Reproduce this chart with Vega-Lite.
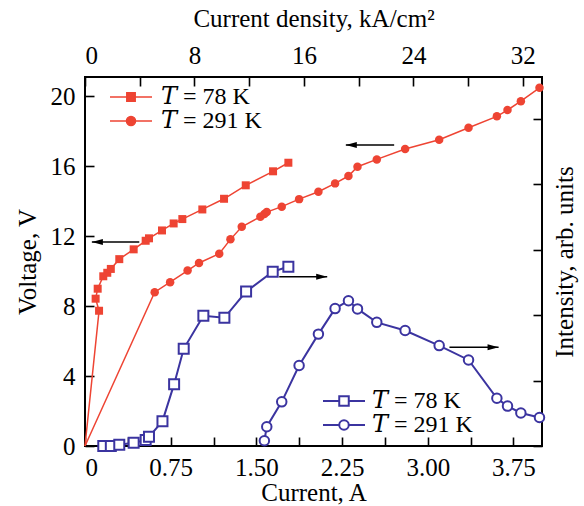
{
  "$schema": "https://vega.github.io/schema/vega-lite/v6.json",
  "width": 457,
  "height": 369,
  "autosize": {"type": "none"},
  "padding": {"left": 85, "top": 77, "right": 42, "bottom": 60},
  "background": "white",
  "config": {
    "font": "Liberation Serif",
    "view": {"stroke": "black", "strokeWidth": 2},
    "axis": {
      "grid": false,
      "domain": false,
      "ticks": true,
      "tickSize": 9,
      "offset": -9,
      "tickColor": "black",
      "tickWidth": 1.6,
      "tickOpacity": 1,
      "labelFont": "Liberation Serif",
      "labelFontSize": 25,
      "labelColor": "black",
      "titleFont": "Liberation Serif",
      "titleFontSize": 25,
      "titleFontWeight": "normal",
      "titleColor": "black"
    },
    "legend": {
      "title": null,
      "labelFont": "Liberation Serif, DejaVu Serif",
      "labelFontSize": 24,
      "labelColor": "black",
      "padding": 0,
      "rowPadding": 0
    }
  },
  "datasets": {
    "volt": [
      {"T": "78 K", "i": 0, "A": 0, "V": 0},
      {"T": "78 K", "i": 1, "A": 0.123, "V": 7.73},
      {"T": "78 K", "i": 2, "A": 0.093, "V": 8.42},
      {"T": "78 K", "i": 3, "A": 0.111, "V": 8.99},
      {"T": "78 K", "i": 4, "A": 0.16, "V": 9.7},
      {"T": "78 K", "i": 5, "A": 0.195, "V": 9.9},
      {"T": "78 K", "i": 6, "A": 0.226, "V": 10.12},
      {"T": "78 K", "i": 7, "A": 0.3, "V": 10.68},
      {"T": "78 K", "i": 8, "A": 0.426, "V": 11.24},
      {"T": "78 K", "i": 9, "A": 0.531, "V": 11.73},
      {"T": "78 K", "i": 10, "A": 0.56, "V": 11.87},
      {"T": "78 K", "i": 11, "A": 0.674, "V": 12.32},
      {"T": "78 K", "i": 12, "A": 0.776, "V": 12.72},
      {"T": "78 K", "i": 13, "A": 0.852, "V": 12.97},
      {"T": "78 K", "i": 14, "A": 1.027, "V": 13.52},
      {"T": "78 K", "i": 15, "A": 1.217, "V": 14.13},
      {"T": "78 K", "i": 16, "A": 1.407, "V": 14.9},
      {"T": "78 K", "i": 17, "A": 1.646, "V": 15.7},
      {"T": "78 K", "i": 18, "A": 1.78, "V": 16.19},
      {"T": "291 K", "i": 0, "A": 0, "V": 0},
      {"T": "291 K", "i": 1, "A": 0.61, "V": 8.79},
      {"T": "291 K", "i": 2, "A": 0.745, "V": 9.36},
      {"T": "291 K", "i": 3, "A": 0.898, "V": 10.03},
      {"T": "291 K", "i": 4, "A": 0.998, "V": 10.46},
      {"T": "291 K", "i": 5, "A": 1.175, "V": 10.99},
      {"T": "291 K", "i": 6, "A": 1.273, "V": 11.81},
      {"T": "291 K", "i": 7, "A": 1.372, "V": 12.53},
      {"T": "291 K", "i": 8, "A": 1.535, "V": 13.1},
      {"T": "291 K", "i": 9, "A": 1.57, "V": 13.26},
      {"T": "291 K", "i": 10, "A": 1.591, "V": 13.37},
      {"T": "291 K", "i": 11, "A": 1.722, "V": 13.68},
      {"T": "291 K", "i": 12, "A": 1.874, "V": 14.11},
      {"T": "291 K", "i": 13, "A": 2.043, "V": 14.53},
      {"T": "291 K", "i": 14, "A": 2.189, "V": 15.01},
      {"T": "291 K", "i": 15, "A": 2.306, "V": 15.43},
      {"T": "291 K", "i": 16, "A": 2.385, "V": 15.96},
      {"T": "291 K", "i": 17, "A": 2.554, "V": 16.38},
      {"T": "291 K", "i": 18, "A": 2.802, "V": 16.97},
      {"T": "291 K", "i": 19, "A": 3.1, "V": 17.5},
      {"T": "291 K", "i": 20, "A": 3.357, "V": 18.19},
      {"T": "291 K", "i": 21, "A": 3.605, "V": 18.84},
      {"T": "291 K", "i": 22, "A": 3.698, "V": 19.2},
      {"T": "291 K", "i": 23, "A": 3.815, "V": 19.71},
      {"T": "291 K", "i": 24, "A": 3.978, "V": 20.47}
    ],
    "inten": [
      {"T": "78 K", "A": 0.16, "I": 0.0},
      {"T": "78 K", "A": 0.226, "I": 0.0},
      {"T": "78 K", "A": 0.3, "I": 0.04},
      {"T": "78 K", "A": 0.426, "I": 0.1},
      {"T": "78 K", "A": 0.531, "I": 0.18},
      {"T": "78 K", "A": 0.56, "I": 0.28},
      {"T": "78 K", "A": 0.678, "I": 0.76},
      {"T": "78 K", "A": 0.78, "I": 1.89},
      {"T": "78 K", "A": 0.864, "I": 2.97},
      {"T": "78 K", "A": 1.036, "I": 3.98},
      {"T": "78 K", "A": 1.22, "I": 3.92},
      {"T": "78 K", "A": 1.41, "I": 4.72},
      {"T": "78 K", "A": 1.643, "I": 5.33},
      {"T": "78 K", "A": 1.78, "I": 5.48},
      {"T": "291 K", "A": 1.57, "I": 0.16},
      {"T": "291 K", "A": 1.591, "I": 0.59},
      {"T": "291 K", "A": 1.722, "I": 1.35},
      {"T": "291 K", "A": 1.874, "I": 2.46},
      {"T": "291 K", "A": 2.043, "I": 3.42},
      {"T": "291 K", "A": 2.189, "I": 4.2},
      {"T": "291 K", "A": 2.306, "I": 4.44},
      {"T": "291 K", "A": 2.385, "I": 4.19},
      {"T": "291 K", "A": 2.554, "I": 3.78},
      {"T": "291 K", "A": 2.802, "I": 3.53},
      {"T": "291 K", "A": 3.1, "I": 3.07},
      {"T": "291 K", "A": 3.357, "I": 2.63},
      {"T": "291 K", "A": 3.605, "I": 1.46},
      {"T": "291 K", "A": 3.698, "I": 1.22},
      {"T": "291 K", "A": 3.815, "I": 1.01},
      {"T": "291 K", "A": 3.978, "I": 0.87}
    ],
    "arrows": [
      {"x1": 0.475, "x2": 0.06, "V": 11.66, "dir": "l"},
      {"x1": 2.706, "x2": 2.283, "V": 17.2, "dir": "l"},
      {"x1": 1.7, "x2": 2.12, "V": 9.67, "dir": "r"},
      {"x1": 3.19, "x2": 3.62, "V": 5.64, "dir": "r"}
    ],
    "top": [{"J": 0}]
  },
  "layer": [
    {
      "layer": [
        {
          "layer": [
            {
              "data": {"name": "volt"},
              "mark": {"type": "line", "color": "#EE4433", "strokeWidth": 1.5},
              "encoding": {
                "x": {
                  "field": "A", "type": "quantitative",
                  "scale": {"domain": [0, 4], "nice": false, "zero": false},
                  "axis": {
                    "orient": "bottom",
                    "title": "Current, A",
                    "values": [0, 0.375, 0.75, 1.125, 1.5, 1.875, 2.25, 2.625, 3, 3.375, 3.75],
                    "labelExpr": "datum.value == 0 ? '0' : (datum.value % 0.75 == 0 ? format(datum.value, '.2f') : '')",
                    "labelPadding": 9,
                    "titlePadding": 0
                  }
                },
                "y": {
                  "field": "V", "type": "quantitative",
                  "scale": {"domain": [0, 21.09], "nice": false, "zero": false},
                  "axis": {
                    "orient": "left",
                    "title": "Voltage, V",
                    "values": [0, 2, 4, 6, 8, 10, 12, 14, 16, 18, 20],
                    "labelExpr": "datum.value % 4 == 0 ? datum.label : ''",
                    "labelPadding": 10,
                    "titlePadding": 10
                  }
                },
                "detail": {"field": "T"},
                "order": {"field": "i", "type": "quantitative"}
              }
            },
            {
              "data": {"name": "volt"},
              "transform": [{"filter": "datum.i > 0 && datum.T == '78 K'"}],
              "mark": {"type": "point", "shape": "square", "filled": true, "color": "#EE4433", "size": 64, "opacity": 1},
              "encoding": {
                "x": {"field": "A", "type": "quantitative", "scale": {"domain": [0, 4], "nice": false, "zero": false}},
                "y": {"field": "V", "type": "quantitative", "scale": {"domain": [0, 21.09], "nice": false, "zero": false}}
              }
            },
            {
              "data": {"name": "volt"},
              "transform": [{"filter": "datum.i > 0 && datum.T == '291 K'"}],
              "mark": {"type": "point", "shape": "circle", "filled": true, "color": "#EE4433", "size": 72, "opacity": 1},
              "encoding": {
                "x": {"field": "A", "type": "quantitative", "scale": {"domain": [0, 4], "nice": false, "zero": false}},
                "y": {"field": "V", "type": "quantitative", "scale": {"domain": [0, 21.09], "nice": false, "zero": false}}
              }
            },
            {
              "data": {"name": "volt"},
              "transform": [{"filter": "false"}],
              "mark": {"type": "point", "filled": true, "color": "#EE4433", "stroke": "#EE4433", "strokeWidth": 1.5, "size": 196, "opacity": 1},
              "encoding": {
                "x": {"field": "A", "type": "quantitative", "scale": {"domain": [0, 4], "nice": false, "zero": false}},
                "y": {"field": "V", "type": "quantitative", "scale": {"domain": [0, 21.09], "nice": false, "zero": false}},
                "shape": {
                  "field": "T", "type": "nominal",
                  "scale": {
                    "domain": ["78 K", "291 K"],
                    "range": ["M-3,0H3M-0.6,-0.6H0.6V0.6H-0.6Z", "M-3,0H3M-0.65,0A0.65,0.65,0,1,0,0.65,0A0.65,0.65,0,1,0,-0.65,0Z"]
                  },
                  "legend": {
                    "orient": "none",
                    "legendX": 34,
                    "legendY": 8,
                    "symbolSize": 196,
                    "symbolStrokeWidth": 1.5,
                    "labelOffset": 18,
                    "labelExpr": "'𝑇 = ' + datum.label"
                  }
                }
              }
            },
            {
              "data": {"name": "arrows"},
              "mark": {"type": "rule", "color": "black", "strokeWidth": 1.5},
              "encoding": {
                "x": {"field": "x1", "type": "quantitative", "scale": {"domain": [0, 4], "nice": false, "zero": false}},
                "x2": {"field": "x2"},
                "y": {"field": "V", "type": "quantitative", "scale": {"domain": [0, 21.09], "nice": false, "zero": false}}
              }
            },
            {
              "data": {"name": "arrows"},
              "transform": [{"filter": "datum.dir == 'l'"}],
              "mark": {"type": "point", "shape": "M0,0L2,-0.55L2,0.55Z", "filled": true, "color": "black", "size": 121, "opacity": 1},
              "encoding": {
                "x": {"field": "x2", "type": "quantitative", "scale": {"domain": [0, 4], "nice": false, "zero": false}},
                "y": {"field": "V", "type": "quantitative", "scale": {"domain": [0, 21.09], "nice": false, "zero": false}}
              }
            },
            {
              "data": {"name": "arrows"},
              "transform": [{"filter": "datum.dir == 'r'"}],
              "mark": {"type": "point", "shape": "M0,0L-2,-0.55L-2,0.55Z", "filled": true, "color": "black", "size": 121, "opacity": 1},
              "encoding": {
                "x": {"field": "x2", "type": "quantitative", "scale": {"domain": [0, 4], "nice": false, "zero": false}},
                "y": {"field": "V", "type": "quantitative", "scale": {"domain": [0, 21.09], "nice": false, "zero": false}}
              }
            }
          ]
        },
        {
          "layer": [
            {
              "data": {"name": "inten"},
              "mark": {"type": "line", "color": "#3B34A0", "strokeWidth": 2},
              "encoding": {
                "x": {"field": "A", "type": "quantitative", "scale": {"domain": [0, 4], "nice": false, "zero": false}},
                "y": {
                  "field": "I", "type": "quantitative",
                  "scale": {"domain": [0, 11.28], "nice": false, "zero": false},
                  "axis": {
                    "orient": "right",
                    "title": "Intensity, arb. units",
                    "values": [0, 1, 2, 3, 4, 5, 6, 7, 8, 9, 10, 11],
                    "labels": false,
                    "titleAngle": 270,
                    "titleBaseline": "top",
                    "titlePadding": 10
                  }
                },
                "detail": {"field": "T"}
              }
            },
            {
              "data": {"name": "inten"},
              "transform": [{"filter": "datum.T == '78 K'"}],
              "mark": {"type": "point", "shape": "square", "filled": false, "fill": "white", "stroke": "#3B34A0", "strokeWidth": 2, "size": 100, "opacity": 1},
              "encoding": {
                "x": {"field": "A", "type": "quantitative", "scale": {"domain": [0, 4], "nice": false, "zero": false}},
                "y": {"field": "I", "type": "quantitative", "scale": {"domain": [0, 11.28], "nice": false, "zero": false}}
              }
            },
            {
              "data": {"name": "inten"},
              "transform": [{"filter": "datum.T == '291 K'"}],
              "mark": {"type": "point", "shape": "circle", "filled": false, "fill": "white", "stroke": "#3B34A0", "strokeWidth": 2, "size": 90, "opacity": 1},
              "encoding": {
                "x": {"field": "A", "type": "quantitative", "scale": {"domain": [0, 4], "nice": false, "zero": false}},
                "y": {"field": "I", "type": "quantitative", "scale": {"domain": [0, 11.28], "nice": false, "zero": false}}
              }
            },
            {
              "data": {"name": "inten"},
              "transform": [{"filter": "false"}],
              "mark": {"type": "point", "filled": false, "fill": "white", "stroke": "#3B34A0", "strokeWidth": 2, "size": 196, "opacity": 1},
              "encoding": {
                "x": {"field": "A", "type": "quantitative", "scale": {"domain": [0, 4], "nice": false, "zero": false}},
                "y": {"field": "I", "type": "quantitative", "scale": {"domain": [0, 11.28], "nice": false, "zero": false}},
                "shape": {
                  "field": "T", "type": "nominal",
                  "scale": {
                    "domain": ["78 K", "291 K"],
                    "range": ["M-3,0H-0.68M0.68,0H3M-0.68,-0.68H0.68V0.68H-0.68Z", "M-3,0H-0.68M0.68,0H3M-0.68,0A0.68,0.68,0,1,0,0.68,0A0.68,0.68,0,1,0,-0.68,0Z"]
                  },
                  "legend": {
                    "orient": "none",
                    "legendX": 247,
                    "legendY": 312,
                    "symbolSize": 196,
                    "symbolStrokeWidth": 2,
                    "labelOffset": 16,
                    "labelExpr": "'𝑇 = ' + datum.label"
                  }
                }
              }
            }
          ]
        }
      ],
      "resolve": {"scale": {"y": "independent", "shape": "independent"}}
    },
    {
      "data": {"name": "top"},
      "mark": {"type": "rule", "opacity": 0},
      "encoding": {
        "x": {
          "field": "J", "type": "quantitative",
          "scale": {"domain": [0, 33.4], "nice": false, "zero": false},
          "axis": {
            "orient": "top",
            "title": "Current density, kA/cm²",
            "values": [0, 4, 8, 12, 16, 20, 24, 28, 32],
            "labelExpr": "datum.value % 8 == 0 ? datum.label : ''",
            "labelPadding": 9,
            "titlePadding": 12
          }
        }
      }
    }
  ],
  "resolve": {"scale": {"x": "independent"}}
}
